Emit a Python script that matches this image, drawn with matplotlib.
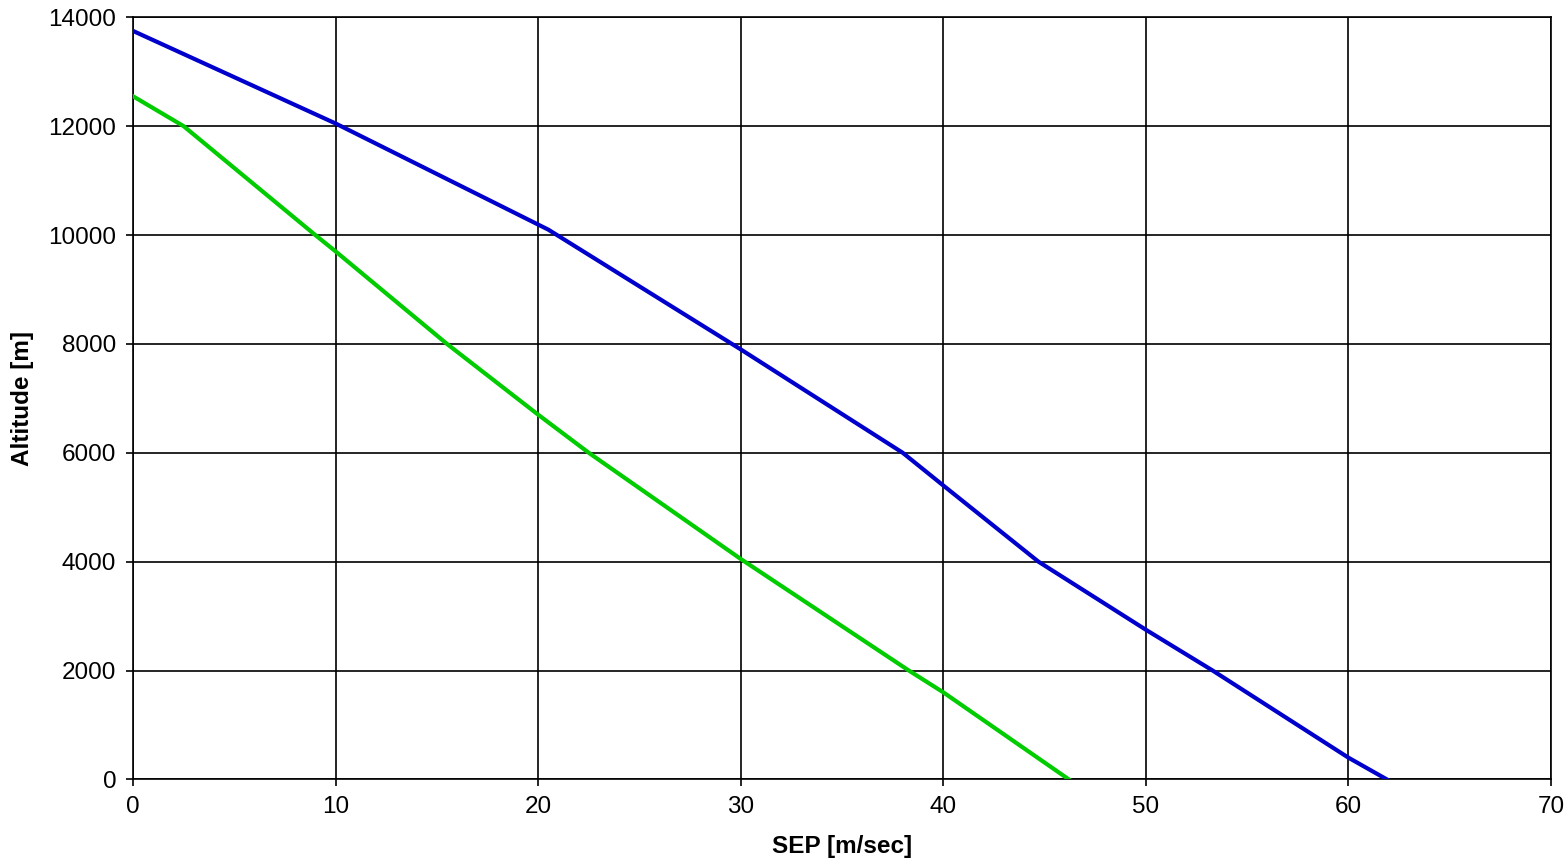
import numpy as np
import matplotlib
matplotlib.use('Agg')
import matplotlib.pyplot as plt

plt.rcParams['font.family'] = ['Liberation Sans', 'DejaVu Sans']

# SEP [m/sec] vs altitude [m]
alt_blue = [13750, 12050, 10100, 7900, 6000, 5400, 4000, 2750, 2000, 400, 0]
sep_blue = [0, 10, 20.5, 30, 38, 40, 44.7, 50, 53.3, 60, 61.9]

alt_green = [12550, 12000, 10000, 9700, 8000, 6700, 6000, 4050, 2000, 1600, 0]
sep_green = [0, 2.5, 9, 10, 15.5, 20, 22.5, 30, 38.3, 40, 46.2]

xticks = np.arange(0, 71, 10)
yticks = np.arange(0, 14001, 2000)

fig = plt.figure(figsize=(15.65, 8.66), dpi=100)
ax = fig.add_axes([0.085, 0.1, 0.906, 0.88])

ax.plot(sep_blue, alt_blue, color='#0000CC', linewidth=3, zorder=3)
ax.plot(sep_green, alt_green, color='#00CC00', linewidth=3, zorder=3)

ax.set_xlim(0, 70)
ax.set_ylim(0, 14000)
ax.set_xticks(xticks)
ax.set_yticks(yticks)
ax.grid(True, color='black', linewidth=1.2)
ax.set_axisbelow(True)
for s in ax.spines.values():
    s.set_linewidth(1.2)
ax.tick_params(direction='out', length=5, width=1.2, labelsize=17.5, pad=7)

ax.set_xlabel('SEP [m/sec]', fontsize=17.5, fontweight='bold', labelpad=12)
ax.set_ylabel('Altitude [m]', fontsize=17.5, fontweight='bold', labelpad=10)

plt.savefig('out.png', dpi=100, format='png')
